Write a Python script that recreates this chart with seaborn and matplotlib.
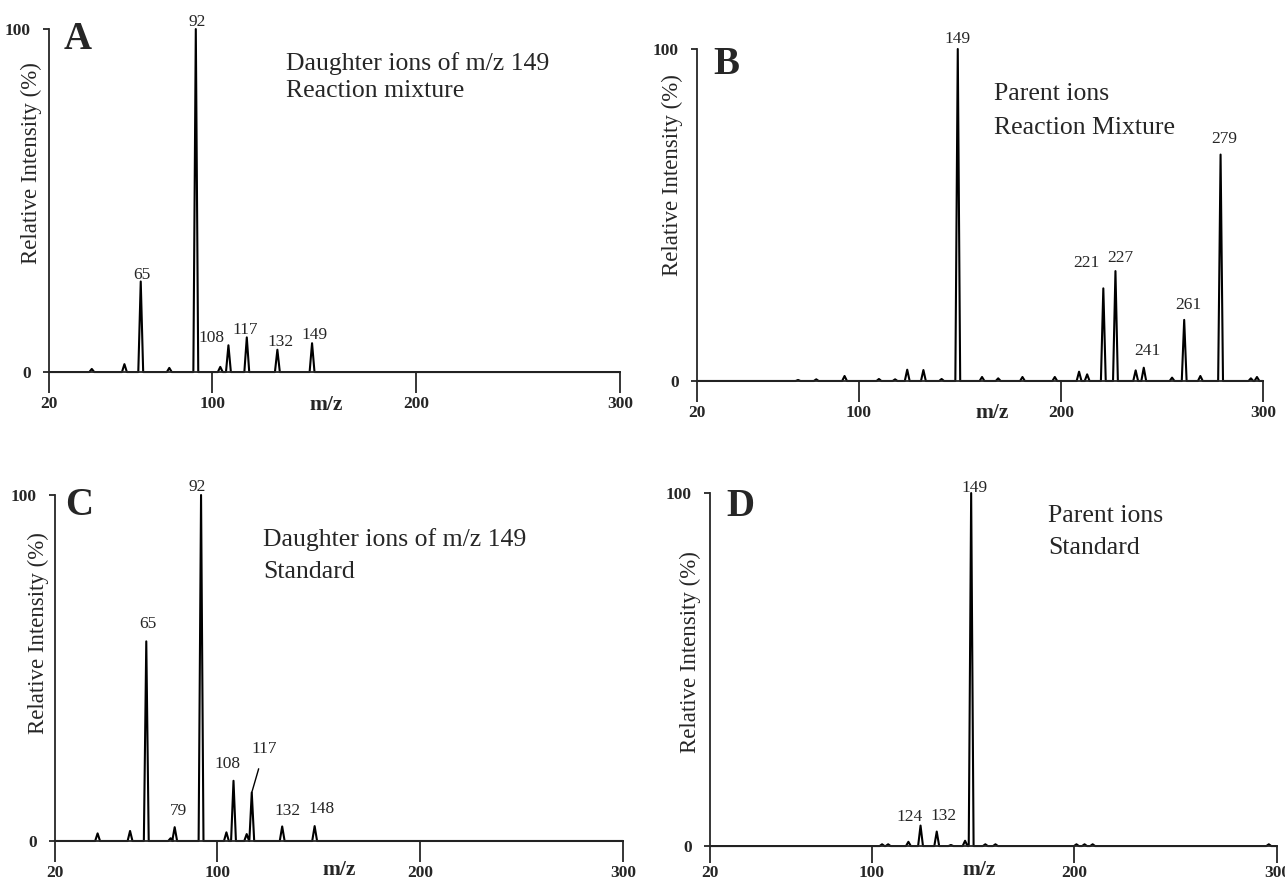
import matplotlib
matplotlib.use('Agg')
import matplotlib.pyplot as plt
import pandas as pd
import seaborn as sns

X_MIN, X_MAX = 20, 300
X_TICKS = [20, 100, 200, 300]

# A: daughter ions of m/z 149, reaction mixture
a_mz = [41, 57, 65, 79, 92, 104, 108, 117, 132, 149]
a_int = [0.9, 2.3, 26.4, 1.2, 100, 1.5, 7.8, 10.1, 6.5, 8.4]
a_labels = [65, 92, 108, 117, 132, 149]
a_note = ['Daughter ions of m/z 149', 'Reaction mixture']

# B: parent ions, reaction mixture
b_mz = [70, 79, 93, 110, 118, 124, 132, 141, 149, 161, 169, 181, 197, 209, 213,
        221, 227, 237, 241, 255, 261, 269, 279, 294, 297]
b_int = [0.3, 0.5, 1.5, 0.6, 0.5, 3.4, 3.3, 0.6, 100, 1.2, 0.8, 1.2, 1.2, 2.8, 2.0,
         27.9, 33.1, 3.2, 4.0, 1.0, 18.4, 1.5, 68.2, 0.8, 1.2]
b_labels = [149, 221, 227, 241, 261, 279]
b_note = ['Parent ions', 'Reaction Mixture']

# C: daughter ions of m/z 149, standard
c_mz = [41, 57, 65, 77, 79, 92, 104.5, 108, 114.5, 117, 132, 148]
c_int = [2.2, 2.9, 57.7, 0.8, 4.0, 100, 2.5, 17.4, 2.0, 14.0, 4.2, 4.3]
c_labels = [65, 79, 92, 108, 117, 132, 148]
c_note = ['Daughter ions of m/z 149', 'Standard']

# D: parent ions, standard
d_mz = [105, 108, 118, 124, 132, 139, 146, 149, 156, 161, 201, 205, 209, 296]
d_int = [0.5, 0.5, 1.2, 5.8, 4.1, 0.3, 1.5, 100, 0.5, 0.5, 0.5, 0.5, 0.5, 0.5]
d_labels = [124, 132, 149]
d_note = ['Parent ions', 'Standard']


def trace(mz, inten, hw=1.2):
    x, y = [X_MIN], [0]
    for m, h in sorted(zip(mz, inten)):
        x += [m - hw, m, m + hw]
        y += [0, h, 0]
    x.append(X_MAX)
    y.append(0)
    return pd.DataFrame({'mz': x, 'intensity': y})


sns.set_style('ticks')
plt.rcParams['font.family'] = ['Liberation Serif', 'DejaVu Serif']

fig = plt.figure(figsize=(12.85, 8.86), dpi=100)

panels = [
    # letter, mz, int, labels, note, axes rect, label offsets (pt), letter pos,
    # note pos, ylabel pos, (m/z x, m/z offset), x tick length
    ('A', a_mz, a_int, a_labels, a_note, [0.0381, 0.5801, 0.4444, 0.3871],
     {65: (1, 5), 92: (1, 5), 108: (-12, 5), 117: (-1, 5.5), 132: (2, 5.5), 149: (2, 6)},
     (0.025, 0.97), (0.415, 0.90, 0.82), (-0.012, 0.61), (156, -24), 15),
    ('B', b_mz, b_int, b_labels, b_note, [0.5424, 0.5700, 0.4405, 0.3747],
     {149: (0, 7), 221: (-12.5, 18.5), 227: (3.5, 9.5), 241: (2.5, 12), 261: (3, 11), 279: (3, 11.5)},
     (0.029, 0.953), (0.524, 0.863, 0.762), (-0.025, 0.62), (166, -23), 15),
    ('C', c_mz, c_int, c_labels, c_note, [0.0428, 0.0508, 0.4420, 0.3905],
     {65: (1.5, 12.5), 79: (3, 11.5), 92: (-2.5, 6), 108: (-4, 12), 132: (4, 11), 148: (5, 12)},
     (0.018, 0.97), (0.366, 0.87, 0.778), (-0.011, 0.60), (160, -21), 15),
    ('D', d_mz, d_int, d_labels, d_note, [0.5525, 0.0451, 0.4412, 0.3984],
     {124: (-8, 6.5), 132: (5, 11), 149: (2.5, 4)},
     (0.029, 0.962), (0.597, 0.934, 0.844), (-0.016, 0.55), (153, -17), 12),
]

for (letter, mz, inten, labels, note, rect, offs, let_pos, note_pos,
     ylab_pos, mz_pos, tick_len) in panels:
    ax = fig.add_axes(rect)
    df = trace(mz, inten)
    sns.lineplot(data=df, x='mz', y='intensity', ax=ax, color='black',
                 linewidth=1.5, estimator=None, sort=False)
    for ln in ax.lines:
        ln.set_clip_on(False)

    ax.set_xlim(X_MIN, X_MAX)
    ax.set_ylim(0, 100)
    sns.despine(ax=ax)
    for side in ['left', 'bottom']:
        ax.spines[side].set_linewidth(1.3)
    ax.set_xticks(X_TICKS)
    ax.set_yticks([0, 100])
    ax.tick_params(axis='x', direction='out', length=tick_len, width=1.3,
                   pad=2, labelsize=12.5)
    ax.tick_params(axis='y', direction='out', length=4, width=1.3,
                   pad=9, labelsize=12.5)
    for lab in ax.get_xticklabels() + ax.get_yticklabels():
        lab.set_fontweight('bold')

    ax.set_xlabel('')
    ax.set_ylabel('Relative Intensity (%)', fontsize=16.5)
    ax.yaxis.set_label_coords(*ylab_pos)
    ax.annotate('m/z', xy=(mz_pos[0], 0), xycoords=('data', 'axes fraction'),
                xytext=(0, mz_pos[1]), textcoords='offset points',
                ha='center', va='center', fontsize=15.5, fontweight='bold',
                annotation_clip=False)

    ax.text(let_pos[0], let_pos[1], letter, transform=ax.transAxes,
            ha='left', va='center', fontsize=28, fontweight='bold')
    ax.text(note_pos[0], note_pos[1], note[0], transform=ax.transAxes,
            ha='left', va='center', fontsize=18.5)
    ax.text(note_pos[0], note_pos[2], note[1], transform=ax.transAxes,
            ha='left', va='center', fontsize=18.5)

    peak_h = dict(zip(mz, inten))
    for m in labels:
        h = peak_h[m]
        if letter == 'C' and m == 117:
            # label with leader line
            ax.annotate(str(m), xy=(m, h), xytext=(9, 31), textcoords='offset points',
                        ha='center', va='center', fontsize=12.5,
                        arrowprops=dict(arrowstyle='-', color='black', lw=1,
                                        shrinkA=6, shrinkB=0),
                        annotation_clip=False)
            continue
        dx, dy = offs[m]
        ax.annotate(str(m), xy=(m, h), xytext=(dx, dy), textcoords='offset points',
                    ha='center', va='center', fontsize=12.5, annotation_clip=False)

fig.savefig('out.png', dpi=100)
